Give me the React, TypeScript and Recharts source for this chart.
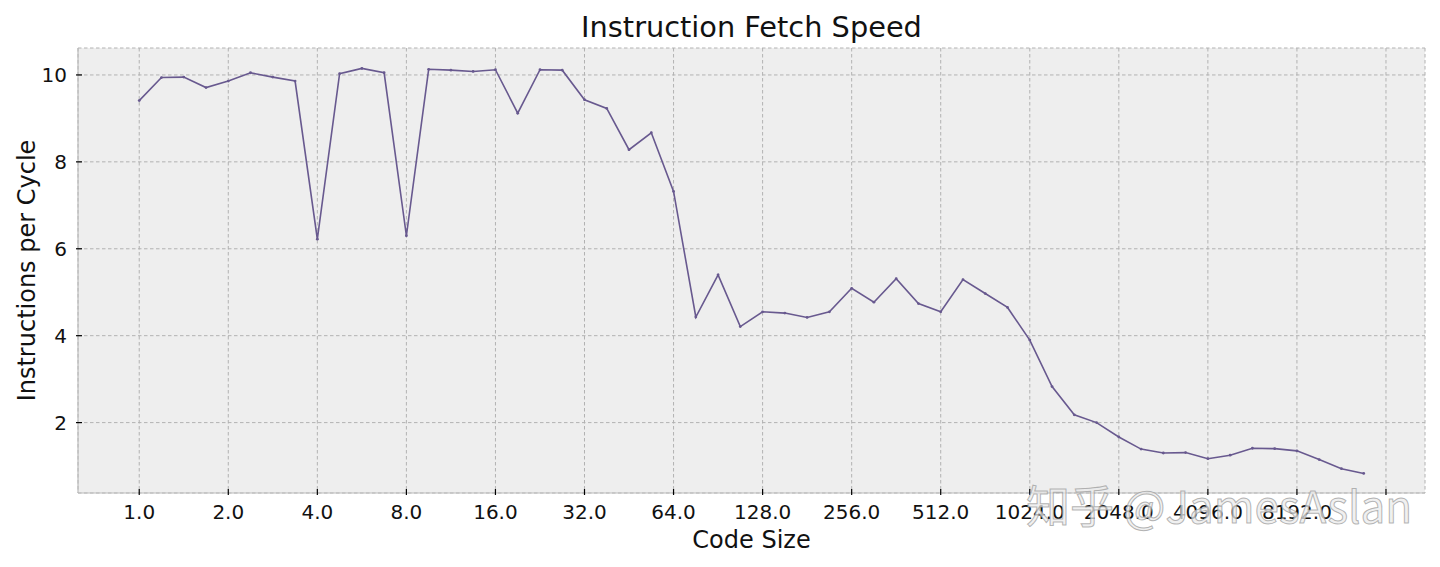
import React from 'react';
import { LineChart, Line, XAxis, YAxis, CartesianGrid } from 'recharts';

// Code size (powers of 2 in quarter-octave steps)
const codeSizes = [
  1, 1.189, 1.414, 1.682, 2, 2.378, 2.828, 3.364,
  4, 4.757, 5.657, 6.727, 8, 9.514, 11.31, 13.45,
  16, 19.03, 22.63, 26.91, 32, 38.05, 45.25, 53.82,
  64, 76.11, 90.51, 107.6, 128, 152.2, 181.0, 215.3,
  256, 304.4, 362.0, 430.5, 512, 608.9, 724.1, 861.1,
  1024, 1218, 1448, 1722, 2048, 2435, 2896, 3444,
  4096, 4871, 5793, 6889, 8192, 9742, 11585, 13777,
];

// Instructions per cycle
const ipcValues = [
  9.41, 9.94, 9.95, 9.71, 9.86, 10.05, 9.95, 9.86,
  6.22, 10.03, 10.15, 10.05, 6.30, 10.13, 10.11, 10.08,
  10.12, 9.12, 10.12, 10.11, 9.43, 9.23, 8.28, 8.67,
  7.32, 4.43, 5.40, 4.21, 4.55, 4.52, 4.42, 4.55,
  5.09, 4.77, 5.31, 4.74, 4.55, 5.29, 4.97, 4.65,
  3.90, 2.83, 2.18, 2.00, 1.67, 1.39, 1.30, 1.31,
  1.17, 1.25, 1.41, 1.40, 1.35, 1.15, 0.94, 0.83,
];

const xTicks = [1, 2, 4, 8, 16, 32, 64, 128, 256, 512, 1024, 2048, 4096, 8192, 16384];
const xTickLabels = ['1.0', '2.0', '4.0', '8.0', '16.0', '32.0', '64.0', '128.0', '256.0', '512.0', '1024.0', '2048.0', '4096.0', '8192.0', ''];
const yTicks = [2, 4, 6, 8, 10];

const data = codeSizes.map((s, i) => ({ size: s, ipc: ipcValues[i] }));

const FONT = '"DejaVu Sans", Verdana, sans-serif';
const LINE_COLOR = '#68598f';

const XTick = (props: any) => {
  const { x, y, payload } = props;
  const idx = xTicks.indexOf(payload.value);
  const label = idx >= 0 ? xTickLabels[idx] : String(payload.value);
  return (
    <g>
      <line x1={x} x2={x} y1={y} y2={y - 6} stroke="#000" strokeWidth={1.2} />
      <text x={x} y={y + 24} textAnchor="middle" fontSize={20} fill="#111" fontFamily={FONT}>
        {label}
      </text>
    </g>
  );
};

const YTick = (props: any) => {
  const { x, y, payload } = props;
  return (
    <g>
      <line x1={x} x2={x + 6} y1={y} y2={y} stroke="#000" strokeWidth={1.2} />
      <text x={x - 9} y={y} dy="0.36em" textAnchor="end" fontSize={20} fill="#111" fontFamily={FONT}>
        {payload.value}
      </text>
    </g>
  );
};

export default function App() {
  return (
    <div style={{ position: 'absolute', left: 0, top: 0, width: 1440, height: 567, background: '#fff' }}>
      <div
        style={{
          position: 'absolute', left: 78, width: 1347, top: 10, textAlign: 'center',
          fontFamily: FONT, fontSize: 28.8, color: '#111', lineHeight: '34px',
        }}
      >
        Instruction Fetch Speed
      </div>
      <LineChart
        width={1440}
        height={567}
        data={data}
        margin={{ top: 48, right: 15, left: 0, bottom: 0 }}
      >
        <CartesianGrid
          stroke="#b2b2b2"
          strokeDasharray="3.5 2.5"
          fill="#eeeeee"
        />
        <XAxis
          dataKey="size"
          type="number"
          scale="log"
          domain={[0.6209, 22198]}
          allowDataOverflow
          ticks={xTicks}
          interval={0}
          height={74}
          tickSize={0}
          tickLine={false}
          axisLine={{ stroke: '#bcbcbc', strokeWidth: 1.2 }}
          tick={<XTick />}
          label={{
            content: (p: any) => {
              const vb = p.viewBox;
              return (
                <text x={vb.x + vb.width / 2} y={548} textAnchor="middle" fontSize={24} fill="#111" fontFamily={FONT}>
                  Code Size
                </text>
              );
            },
          }}
        />
        <XAxis
          xAxisId="top"
          orientation="top"
          dataKey="size"
          type="number"
          scale="log"
          domain={[0.6209, 22198]}
          allowDataOverflow
          height={0}
          tick={false}
          tickLine={false}
          axisLine={{ stroke: '#bcbcbc', strokeWidth: 1.2 }}
        />
        <YAxis
          type="number"
          domain={[0.38, 10.62]}
          allowDataOverflow
          ticks={yTicks}
          width={78}
          tickSize={0}
          tickLine={false}
          axisLine={{ stroke: '#bcbcbc', strokeWidth: 1.2 }}
          tick={<YTick />}
          label={{
            content: (p: any) => {
              const vb = p.viewBox;
              const cy = vb.y + vb.height / 2;
              return (
                <text
                  x={26}
                  y={cy}
                  transform={`rotate(-90 26 ${cy})`}
                  dy="0.36em"
                  textAnchor="middle"
                  fontSize={24}
                  fill="#111"
                  fontFamily={FONT}
                >
                  Instructions per Cycle
                </text>
              );
            },
          }}
        />
        <YAxis
          yAxisId="right"
          orientation="right"
          type="number"
          domain={[0.38, 10.62]}
          width={0}
          tick={false}
          tickLine={false}
          axisLine={{ stroke: '#bcbcbc', strokeWidth: 1.2 }}
        />
        <Line
          type="linear"
          dataKey="ipc"
          stroke={LINE_COLOR}
          strokeWidth={1.6}
          dot={{ r: 1.4, fill: LINE_COLOR, stroke: 'none' }}
          isAnimationActive={false}
        />
      </LineChart>
      <div
        style={{
          position: 'absolute', left: 1026, top: 474, fontFamily: '"Noto Sans CJK SC", "Noto Sans", sans-serif',
          fontSize: 44, color: 'rgba(235,235,235,0.75)', whiteSpace: 'nowrap', pointerEvents: 'none',
          WebkitTextStroke: '1px rgba(150,150,150,0.7)', lineHeight: '60px',
        }}
      >
        知乎 @JamesAslan
      </div>
    </div>
  );
}
